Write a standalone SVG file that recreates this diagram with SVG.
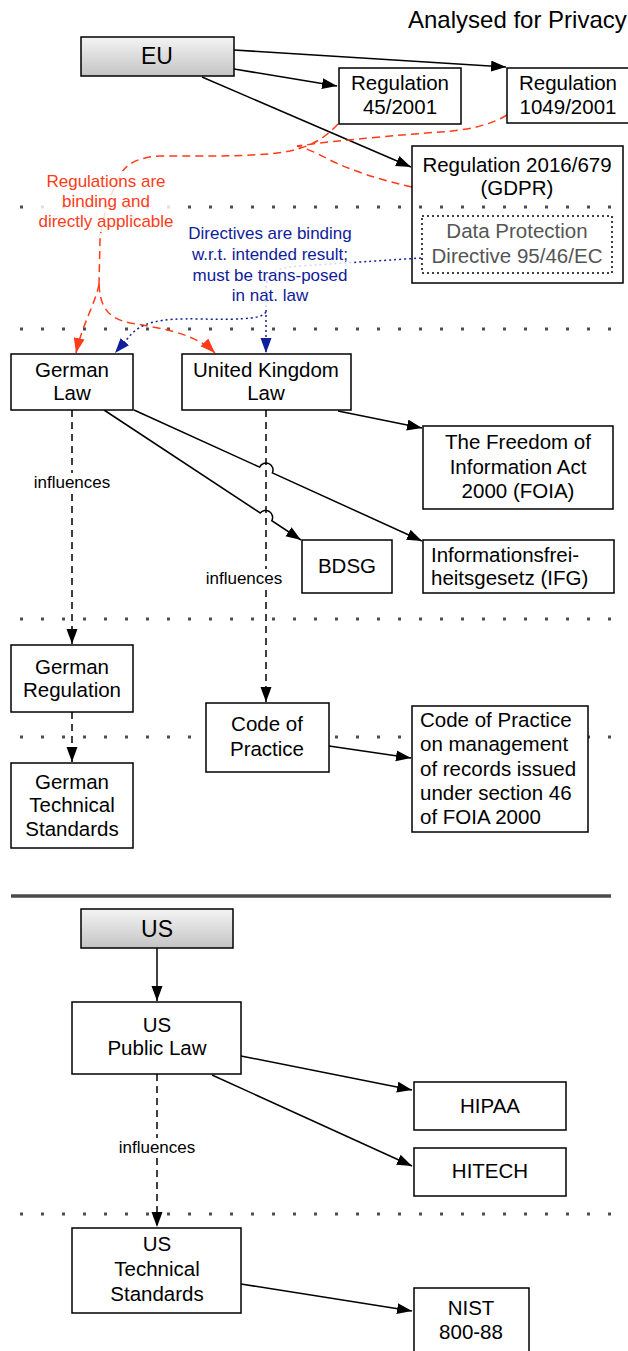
<svg xmlns="http://www.w3.org/2000/svg" width="628" height="1351" viewBox="0 0 628 1351">
  <defs>
    <style>
      .box { fill: #ffffff; stroke: #000000; stroke-width: 1.5; }
      .open { fill: none; stroke: #000000; stroke-width: 1.5; }
      .inner { fill: none; stroke: #000000; stroke-width: 1.5; stroke-dasharray: 2 3; }
      .hdr { fill: url(#hdrFill); stroke: #000000; stroke-width: 1.5; }
      .t { font-family: "Liberation Sans", Arial, Helvetica, sans-serif; font-size: 20.5px; fill: #000000; text-anchor: middle; }
      .start { text-anchor: start; }
      .big { font-size: 23px; }
      .title { font-size: 24px; text-anchor: start; }
      .grey { fill: #555555; }
      .small { font-size: 17px; }
      .sep { stroke: #4d4d4d; stroke-width: 3; stroke-dasharray: 3 18; fill: none; }
      .rule { stroke: #4a4a4a; stroke-width: 3.5; fill: none; }
      .edge { fill: none; stroke: #000000; stroke-width: 1.5; marker-end: url(#arr); }
      .dash { stroke-dasharray: 7 5; }
      .red { fill: none; stroke: #ff3b1a; stroke-width: 1.5; stroke-dasharray: 8 5; }
      .blue { fill: none; stroke: #10209a; stroke-width: 1.5; stroke-dasharray: 2 3; }
      .redTip { marker-end: url(#arrRed); }
      .blueTip { marker-end: url(#arrBlue); }
      .redTxt { fill: #ff3b1a; }
      .blueTxt { fill: #10209a; }
      .veil { fill: #ffffff; fill-opacity: 0.82; }
      .bg { fill: #ffffff; }
    </style>
    <linearGradient id="hdrFill" x1="0" y1="0" x2="0" y2="1">
      <stop offset="0" stop-color="#f4f4f4"/>
      <stop offset="1" stop-color="#c4c4c4"/>
    </linearGradient>
    <marker id="arr" markerUnits="userSpaceOnUse" markerWidth="16" markerHeight="12" refX="15" refY="5.5" orient="auto">
      <path d="M0,0 L15,5.5 L0,11 z" fill="#000000"/>
    </marker>
    <marker id="arrRed" markerUnits="userSpaceOnUse" markerWidth="16" markerHeight="12" refX="15" refY="5.5" orient="auto">
      <path d="M0,0 L15,5.5 L0,11 z" fill="#ff3b1a"/>
    </marker>
    <marker id="arrBlue" markerUnits="userSpaceOnUse" markerWidth="16" markerHeight="12" refX="15" refY="5.5" orient="auto">
      <path d="M0,0 L15,5.5 L0,11 z" fill="#10209a"/>
    </marker>
  </defs>

  <rect x="0" y="0" width="628" height="1351" fill="#ffffff"/>

  <text class="t title" x="408" y="28">Analysed for Privacy</text>

  <!-- layer separators -->
  <g id="separators">
    <line class="sep" x1="20" y1="207" x2="628" y2="207"/>
    <line class="sep" x1="20" y1="329" x2="628" y2="329"/>
    <line class="sep" x1="20" y1="619" x2="628" y2="619"/>
    <line class="sep" x1="20" y1="737" x2="628" y2="737"/>
    <line class="sep" x1="20" y1="1214" x2="628" y2="1214"/>
    <line class="rule" x1="11" y1="896" x2="611" y2="896"/>
  </g>

  <!-- connectors -->
  <g id="connectors">
    <path class="edge" d="M234,50 L506,67"/>
    <path class="edge" d="M234,69 L337,86"/>
    <path class="edge" d="M202,77 L411,167"/>

    <path class="edge" d="M338,411 L422,428"/>
    <path class="edge" d="M134,410 L259.6,467.1 A7,7 0 0 1 272.4,472.9 L422,541"/>
    <path class="edge" d="M104,410 L260.2,513 A7,7 0 0 1 271.8,520.7 L301,540"/>
    <path class="edge dash" d="M72,410 L72,644"/>
    <path class="edge dash" d="M266,410 L266,702"/>
    <path class="edge dash" d="M72,712 L72,762"/>
    <path class="edge" d="M329,746 L411,758"/>

    <path class="edge" d="M157,948 L157,1001"/>
    <path class="edge" d="M241,1056 L412,1090"/>
    <path class="edge" d="M212,1075 L412,1166"/>
    <path class="edge dash" d="M157,1074 L157,1227"/>
    <path class="edge" d="M241,1284 L412,1311"/>

    <!-- regulations: binding and directly applicable -->
    <path class="red" d="M338,124 C325,138 312,146 290,151 C270,155 240,156 200,156 L160,156 C140,157 128,163 122,172 C112,190 102,215 100,240 L99,284"/>
    <path class="red" d="M507,115 C490,125 470,130 440,132 C400,135 340,140 297,146"/>
    <path class="red" d="M412,187 C380,180 350,170 330,160 C315,152 305,148 297,146"/>
    <path class="red redTip" d="M99,284 C96,302 82,325 76,353"/>
    <path class="red redTip" d="M99,284 C100,305 106,318 130,323 C160,328 195,333 215,353"/>

    <!-- directives: transposed into national law -->
    <path class="blue" d="M421,258 C390,260 360,262 300,266 C275,268 266,272 266,290"/>
    <path class="blue blueTip" d="M266,290 L266,353"/>
    <path class="blue blueTip" d="M266,312 C262,318 250,320 200,319 C160,318 140,322 128,338 L115,353"/>
  </g>

  <!-- edge labels -->
  <g id="labels">
    <rect class="veil" x="36" y="171" width="140" height="61"/>
    <text class="t small redTxt" x="106" y="187">Regulations are</text>
    <text class="t small redTxt" x="106" y="207">binding and</text>
    <text class="t small redTxt" x="106" y="227">directly applicable</text>

    <rect class="veil" x="185" y="224" width="169" height="83"/>
    <text class="t small blueTxt" x="270" y="239">Directives are binding</text>
    <text class="t small blueTxt" x="270" y="260">w.r.t. intended result;</text>
    <text class="t small blueTxt" x="270" y="281">must be trans-posed</text>
    <text class="t small blueTxt" x="270" y="301">in nat. law</text>

    <rect class="bg" x="32" y="473" width="80" height="18"/>
    <text class="t small" x="72" y="488">influences</text>
    <rect class="bg" x="204" y="569" width="80" height="18"/>
    <text class="t small" x="244" y="584">influences</text>
    <rect class="bg" x="117" y="1138" width="80" height="18"/>
    <text class="t small" x="157" y="1153">influences</text>
  </g>

  <!-- EU -->
  <g id="eu">
    <rect class="hdr" x="81" y="37" width="153" height="39"/>
    <text class="t big" x="157" y="64">EU</text>
  </g>
  <g id="reg-45-2001">
    <rect class="box" x="339" y="68" width="122" height="56"/>
    <text class="t" x="400" y="90">Regulation</text>
    <text class="t" x="400" y="114">45/2001</text>
  </g>
  <g id="reg-1049-2001">
    <rect class="box" x="507" y="68" width="123" height="55"/>
    <text class="t" x="568" y="90">Regulation</text>
    <text class="t" x="568" y="114">1049/2001</text>
  </g>
  <g id="gdpr">
    <rect class="open" x="412" y="146" width="211" height="137"/>
    <text class="t" x="517" y="172">Regulation 2016/679</text>
    <text class="t" x="517" y="195">(GDPR)</text>
  </g>
  <g id="directive-95-46">
    <rect class="inner" x="422" y="216" width="190" height="57"/>
    <text class="t grey" x="517" y="238">Data Protection</text>
    <text class="t grey" x="517" y="263">Directive 95/46/EC</text>
  </g>

  <!-- national law -->
  <g id="german-law">
    <rect class="box" x="11" y="354" width="122" height="56"/>
    <text class="t" x="72" y="377">German</text>
    <text class="t" x="72" y="400">Law</text>
  </g>
  <g id="uk-law">
    <rect class="box" x="182" y="354" width="169" height="56"/>
    <text class="t" x="266" y="377">United Kingdom</text>
    <text class="t" x="266" y="400">Law</text>
  </g>
  <g id="foia">
    <rect class="box" x="423" y="426" width="190" height="83"/>
    <text class="t" x="518" y="449">The Freedom of</text>
    <text class="t" x="518" y="474">Information Act</text>
    <text class="t" x="518" y="498">2000 (FOIA)</text>
  </g>
  <g id="bdsg">
    <rect class="box" x="302" y="540" width="90" height="53"/>
    <text class="t" x="347" y="573">BDSG</text>
  </g>
  <g id="ifg">
    <rect class="box" x="423" y="540" width="191" height="53"/>
    <text class="t start" x="431" y="562">Informationsfrei-</text>
    <text class="t start" x="431" y="585">heitsgesetz (IFG)</text>
  </g>

  <!-- regulation and standards -->
  <g id="german-regulation">
    <rect class="box" x="11" y="645" width="122" height="67"/>
    <text class="t" x="72" y="674">German</text>
    <text class="t" x="72" y="697">Regulation</text>
  </g>
  <g id="code-of-practice">
    <rect class="box" x="206" y="703" width="123" height="69"/>
    <text class="t" x="267" y="731">Code of</text>
    <text class="t" x="267" y="756">Practice</text>
  </g>
  <g id="code-of-practice-records">
    <rect class="box" x="412" y="706" width="176" height="126"/>
    <text class="t start" x="420" y="727">Code of Practice</text>
    <text class="t start" x="420" y="751">on management</text>
    <text class="t start" x="420" y="776">of records issued</text>
    <text class="t start" x="420" y="800">under section 46</text>
    <text class="t start" x="420" y="824">of FOIA 2000</text>
  </g>
  <g id="german-technical-standards">
    <rect class="box" x="11" y="763" width="122" height="85"/>
    <text class="t" x="72" y="789">German</text>
    <text class="t" x="72" y="812">Technical</text>
    <text class="t" x="72" y="836">Standards</text>
  </g>

  <!-- US -->
  <g id="us">
    <rect class="hdr" x="81" y="909" width="152" height="39"/>
    <text class="t big" x="157" y="937">US</text>
  </g>
  <g id="us-public-law">
    <rect class="box" x="72" y="1002" width="169" height="72"/>
    <text class="t" x="157" y="1032">US</text>
    <text class="t" x="157" y="1055">Public Law</text>
  </g>
  <g id="hipaa">
    <rect class="box" x="414" y="1082" width="152" height="48"/>
    <text class="t" x="490" y="1113">HIPAA</text>
  </g>
  <g id="hitech">
    <rect class="box" x="414" y="1148" width="152" height="48"/>
    <text class="t" x="490" y="1178">HITECH</text>
  </g>
  <g id="us-technical-standards">
    <rect class="box" x="72" y="1228" width="169" height="85"/>
    <text class="t" x="157" y="1251">US</text>
    <text class="t" x="157" y="1276">Technical</text>
    <text class="t" x="157" y="1301">Standards</text>
  </g>
  <g id="nist-800-88">
    <rect class="box" x="414" y="1288" width="115" height="80"/>
    <text class="t" x="471" y="1315">NIST</text>
    <text class="t" x="471" y="1339">800-88</text>
  </g>
</svg>
